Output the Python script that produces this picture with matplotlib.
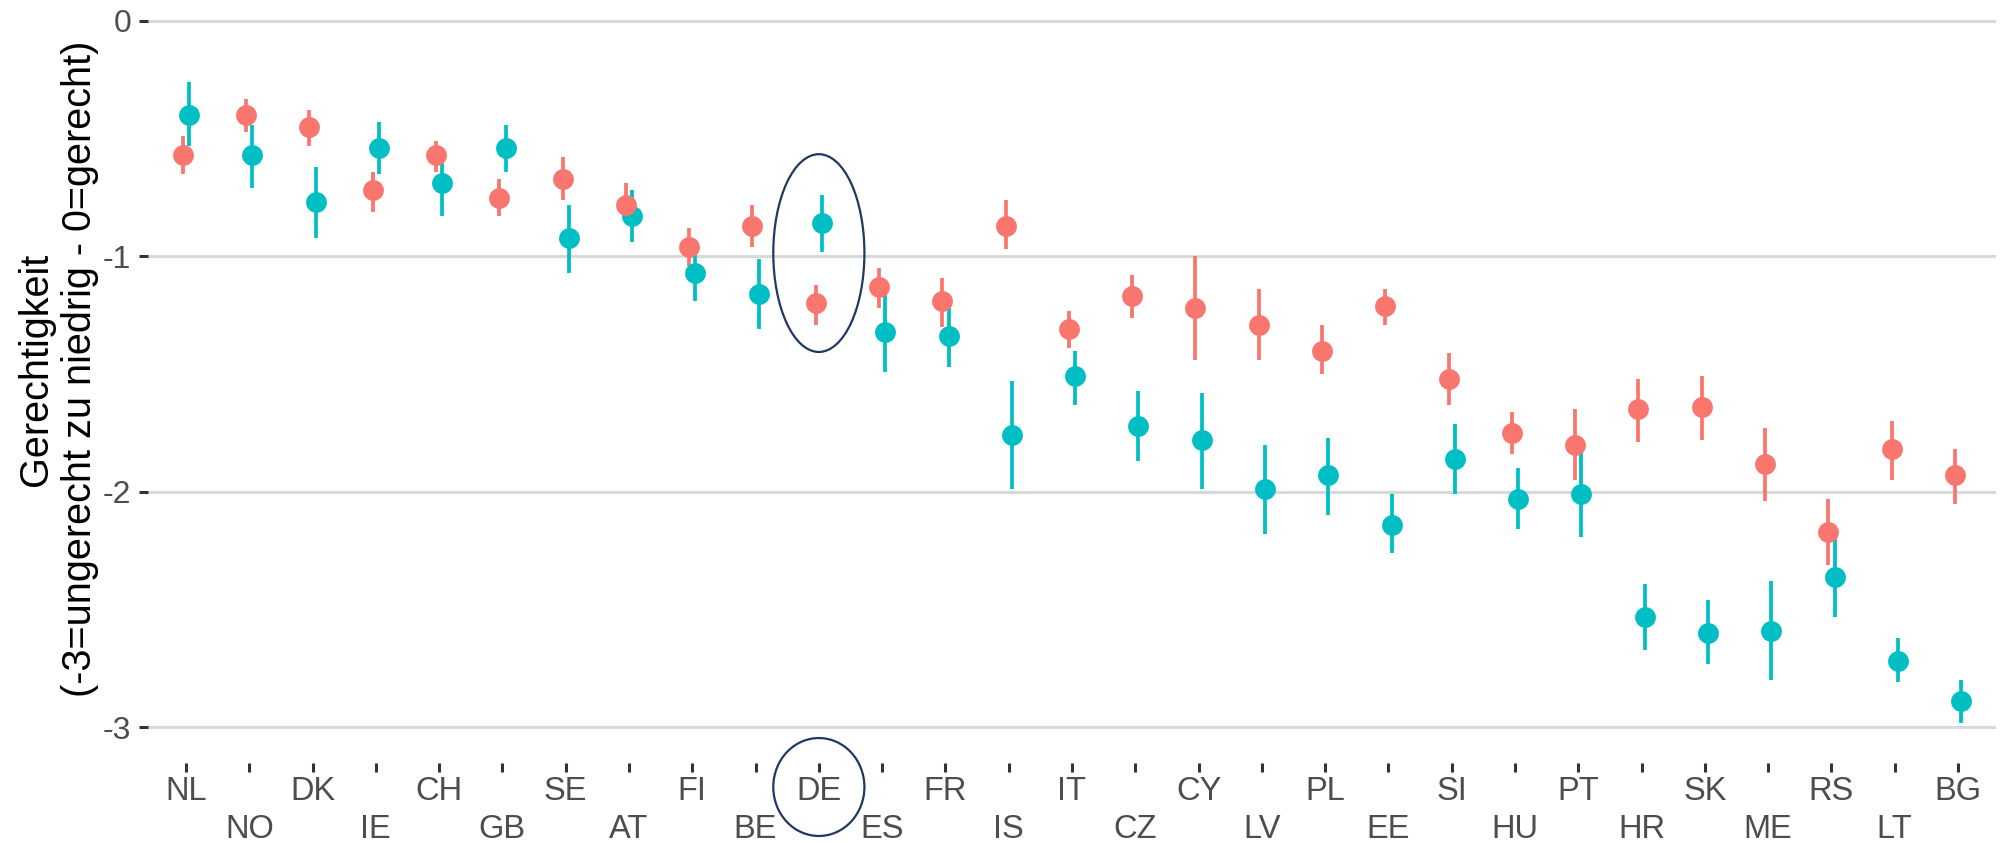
import matplotlib
matplotlib.use("Agg")
import matplotlib.pyplot as plt
from matplotlib.patches import Ellipse
import numpy as np

# Countries in display order
countries = ["NL", "NO", "DK", "IE", "CH", "GB", "SE", "AT", "FI", "BE",
             "DE", "ES", "FR", "IS", "IT", "CZ", "CY", "LV", "PL", "EE",
             "SI", "HU", "PT", "HR", "SK", "ME", "RS", "LT", "BG"]

# Group 1 (red): point estimate and confidence interval
g1_mean = [-0.57, -0.40, -0.45, -0.72, -0.57, -0.75, -0.67, -0.78, -0.96, -0.87,
           -1.20, -1.13, -1.19, -0.87, -1.31, -1.17, -1.22, -1.29, -1.40, -1.21,
           -1.52, -1.75, -1.80, -1.65, -1.64, -1.88, -2.17, -1.82, -1.93]
g1_lo = [-0.65, -0.47, -0.53, -0.81, -0.64, -0.83, -0.76, -0.86, -1.04, -0.96,
         -1.29, -1.22, -1.30, -0.97, -1.39, -1.26, -1.44, -1.44, -1.50, -1.29,
         -1.63, -1.84, -1.95, -1.79, -1.78, -2.04, -2.31, -1.95, -2.05]
g1_hi = [-0.49, -0.33, -0.38, -0.64, -0.51, -0.67, -0.58, -0.69, -0.88, -0.78,
         -1.12, -1.05, -1.09, -0.76, -1.23, -1.08, -1.00, -1.14, -1.29, -1.14,
         -1.41, -1.66, -1.65, -1.52, -1.51, -1.73, -2.03, -1.70, -1.82]

# Group 2 (teal): point estimate and confidence interval
g2_mean = [-0.40, -0.57, -0.77, -0.54, -0.69, -0.54, -0.92, -0.83, -1.07, -1.16,
           -0.86, -1.32, -1.34, -1.76, -1.51, -1.72, -1.78, -1.99, -1.93, -2.14,
           -1.86, -2.03, -2.01, -2.53, -2.60, -2.59, -2.36, -2.72, -2.89]
g2_lo = [-0.53, -0.71, -0.92, -0.65, -0.83, -0.64, -1.07, -0.94, -1.19, -1.31,
         -0.98, -1.49, -1.47, -1.99, -1.63, -1.87, -1.99, -2.18, -2.10, -2.26,
         -2.01, -2.16, -2.19, -2.67, -2.73, -2.80, -2.53, -2.81, -2.98]
g2_hi = [-0.26, -0.44, -0.62, -0.43, -0.60, -0.44, -0.78, -0.72, -0.99, -1.01,
         -0.74, -1.14, -1.21, -1.53, -1.40, -1.57, -1.58, -1.80, -1.77, -2.01,
         -1.71, -1.90, -1.83, -2.39, -2.46, -2.38, -2.19, -2.62, -2.80]

y_ticks = [0, -1, -2, -3]
y_title = "Gerechtigkeit\n(-3=ungerecht zu niedrig - 0=gerecht)"
highlight = "DE"

RED = "#F8766D"
TEAL = "#00BFC4"
NAVY = "#1F3864"
TXT = "#4D4D4D"

plt.rcParams["font.family"] = ["Liberation Sans", "DejaVu Sans"]

W, H, DPI = 2015, 843, 100
fig = plt.figure(figsize=(W / DPI, H / DPI), dpi=DPI)
ax = fig.add_axes([148 / W, 80 / H, 1848 / W, 763 / H])

x = np.arange(len(countries))
dodge = 0.05

# teal first, red on top
for xs, m, lo, hi, col in [(x + dodge, g2_mean, g2_lo, g2_hi, TEAL),
                           (x - dodge, g1_mean, g1_lo, g1_hi, RED)]:
    ax.vlines(xs, lo, hi, color=col, lw=2.7, zorder=3)
    ax.plot(xs, m, "o", ms=15, color=col, mec="none", zorder=4)

ax.set_xlim(-0.6, len(countries) - 0.4)
ax.set_ylim(-3.152, 0.089)

ax.set_yticks(y_ticks)
ax.set_yticklabels([str(v) if v == 0 else "-%d" % abs(v) for v in y_ticks])
ax.set_xticks(x)
labels = [c if i % 2 == 0 else "\n" + c for i, c in enumerate(countries)]
ax.set_xticklabels(labels)
for i, t in enumerate(ax.get_xticklabels()):
    if i % 2 == 1:
        t.set_linespacing(1.3)

ax.tick_params(axis="x", length=6.5, width=2.2, color="#333333",
               labelsize=23.5, labelcolor=TXT, pad=2.5)
ax.tick_params(axis="y", length=6.5, width=2.2, color="#333333",
               labelsize=23, labelcolor=TXT, pad=5.5)

ax.yaxis.grid(True, color="#D9D9D9", lw=2.2)
ax.xaxis.grid(False)
ax.set_axisbelow(True)
for s in ax.spines.values():
    s.set_visible(False)

# highlight ellipses around the selected country
hx = countries.index(highlight)
ax.add_patch(Ellipse((hx, -0.986), 1.44, 0.84, fill=False, ec=NAVY,
                     lw=1.6, zorder=5))
ax.add_patch(Ellipse((hx, -3.254), 1.44, 0.416, fill=False, ec=NAVY,
                     lw=1.6, zorder=5, clip_on=False))

fig.text(58.5 / W, 1 - 369 / H, y_title, rotation=90, ha="center",
         va="center", fontsize=28.5, color="black", linespacing=1.2)

fig.savefig("out.png", dpi=DPI, facecolor="white")
